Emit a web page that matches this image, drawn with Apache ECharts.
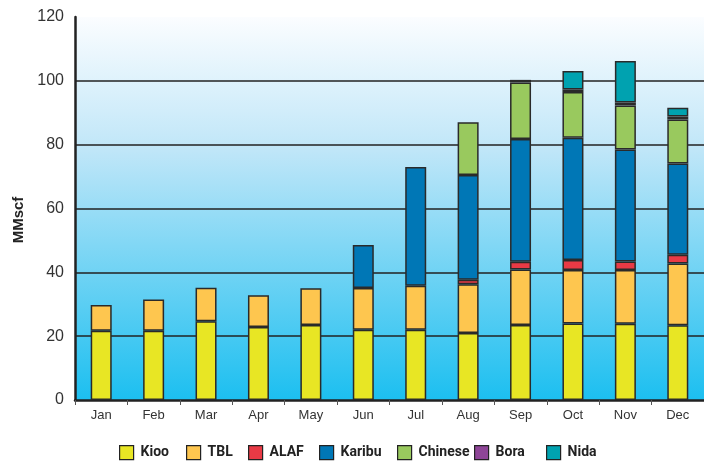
<!DOCTYPE html>
<html><head><meta charset="utf-8">
<script src="https://cdn.jsdelivr.net/npm/echarts@6/dist/echarts.min.js"></script>
<style>html,body{margin:0;padding:0;background:#fff}#c{width:704px;height:461px}</style>
</head><body><div id="c"></div>
<script>
const months = ['Jan','Feb','Mar','Apr','May','Jun','Jul','Aug','Sep','Oct','Nov','Dec'];
const kioo    = [21.7, 21.7, 24.7, 22.9, 23.5, 22.0, 22.0, 21.0, 23.5, 24.0, 23.9, 23.4];
const tbl     = [8.1, 9.8, 10.5, 9.9, 11.5, 13.1, 13.8, 15.3, 17.4, 16.7, 16.8, 19.4];
const alaf    = [0, 0, 0, 0, 0, 0, 0, 1.4, 2.4, 3.2, 2.7, 2.7];
const karibu  = [0, 0, 0, 0, 0, 13.5, 37.2, 32.8, 38.5, 38.3, 35.1, 28.6];
const chinese = [0, 0, 0, 0, 0, 0, 0, 16.5, 17.7, 14.3, 13.8, 13.8];
const bora    = [0, 0, 0, 0, 0, 0, 0, 0, 0.8, 0.8, 0.9, 0.9];
const nida    = [0, 0, 0, 0, 0, 0, 0, 0, 0, 5.8, 13.0, 2.8];
const yTicks  = [0, 20, 40, 60, 80, 100, 120];
const seriesNames = ['Kioo','TBL','ALAF','Karibu','Chinese','Bora','Nida'];
const seriesData  = [kioo, tbl, alaf, karibu, chinese, bora, nida];
const seriesColors = ['#e8e624','#fec64f','#e83a45','#0077b6','#99c95e','#8e4597','#00a2b0'];
const legendLeft = [119, 186, 248, 319, 397, 474, 546];

const chart = echarts.init(document.getElementById('c'), null, {renderer:'canvas'});
chart.setOption({
  animation:false,
  backgroundColor:'#fff',
  grid:{left:75, top:17, width:641, height:383, show:true, borderWidth:0,
    backgroundColor:{type:'linear',x:0,y:0,x2:0,y2:1,colorStops:[{offset:0,color:'#fbfdff'},{offset:0.35,color:'#bfe6f8'},{offset:1,color:'#1cbff0'}]}},
  legend: seriesNames.map((n,i)=>({
    top:445, left:legendLeft[i], itemWidth:14, itemHeight:14, itemGap:0, padding:0,
    icon:'rect',
    textStyle:{fontFamily:'Roboto', fontWeight:'bold', fontSize:14, color:'#222', padding:[0,0,0,2]},
    itemStyle:{borderColor:'#222', borderWidth:1.2},
    data:[n]})),
  graphic:[{type:'text', x:19, y:220, rotation:Math.PI/2,
    style:{text:'MMscf', fontFamily:'Liberation Sans', fontWeight:'bold', fontSize:15, fill:'#222', align:'center', verticalAlign:'middle'}}],
  xAxis:{type:'category', data:months,
    axisLine:{lineStyle:{color:'#222', width:2.5}},
    axisTick:{show:true, alignWithLabel:false, length:5, lineStyle:{color:'#555', width:1}},
    axisLabel:{fontFamily:'Liberation Sans', fontSize:13, color:'#333', margin:9}},
  yAxis:{type:'value', min:yTicks[0], max:yTicks[yTicks.length-1], interval:20,
    axisLine:{show:true, lineStyle:{color:'#222', width:2.5}},
    axisTick:{show:false},
    axisLabel:{fontFamily:'Liberation Sans', fontSize:16, color:'#333', margin:11},
    splitLine:{show:true, showMaxLine:false, showMinLine:false, lineStyle:{color:'#222', width:1.5}}},
  series: seriesNames.map((n,i)=>({
    name:n, type:'bar', stack:'all', barWidth:21,
    data: seriesData[i].map(v => v === 0 ? '-' : v),
    itemStyle:{color:seriesColors[i], borderColor:'#2a2a2a', borderWidth:1.5}
  }))
});
</script></body></html>
